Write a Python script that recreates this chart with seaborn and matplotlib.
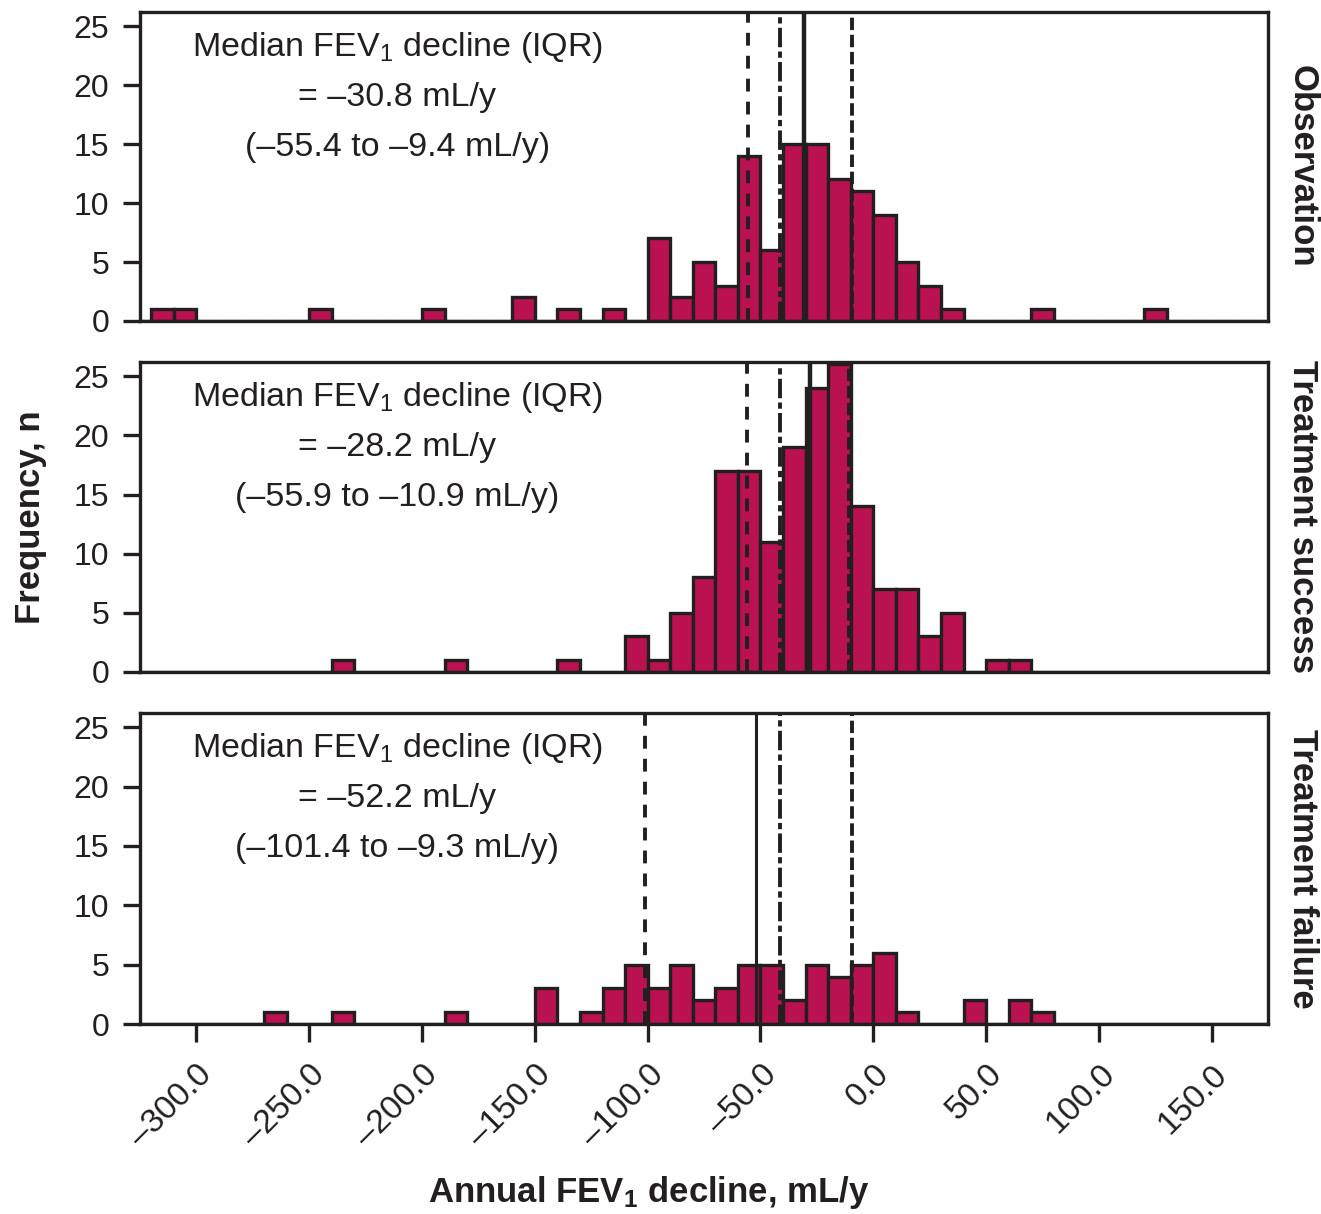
import numpy as np
import pandas as pd
import matplotlib
matplotlib.use("Agg")
import matplotlib.pyplot as plt
import seaborn as sns

# histogram counts per 10 mL/y bin, keyed by the bin's left edge
obs_left = [-320, -310, -250, -200, -160, -140, -120, -100, -90, -80, -70, -60,
            -50, -40, -30, -20, -10, 0, 10, 20, 30, 70, 120]
obs_n = [1, 1, 1, 1, 2, 1, 1, 7, 2, 5, 3, 14, 6, 15, 15, 12, 11, 9, 5, 3, 1, 1, 1]

succ_left = [-240, -190, -140, -110, -100, -90, -80, -70, -60, -50, -40, -30,
             -20, -10, 0, 10, 20, 30, 50, 60]
succ_n = [1, 1, 1, 3, 1, 5, 8, 17, 17, 11, 19, 24, 26, 14, 7, 7, 3, 5, 1, 1]

fail_left = [-270, -240, -190, -150, -130, -120, -110, -100, -90, -80, -70, -60,
             -50, -40, -30, -20, -10, 0, 10, 40, 60, 70]
fail_n = [1, 1, 1, 3, 1, 3, 5, 3, 5, 2, 3, 5, 5, 2, 5, 4, 5, 6, 1, 2, 2, 1]

groups = ["Observation", "Treatment success", "Treatment failure"]
medians = [-30.8, -28.2, -52.2]
q1s = [-55.4, -55.9, -101.4]
q3s = [-9.4, -10.9, -9.3]
ref_line = -41.2  # unlabeled dash-dot line, same in every panel

xticks = [-300, -250, -200, -150, -100, -50, 0, 50, 100, 150]
yticks = [0, 5, 10, 15, 20, 25]

frames = []
for g, left, n in zip(groups, [obs_left, succ_left, fail_left], [obs_n, succ_n, fail_n]):
    frames.append(pd.DataFrame({"group": g, "value": np.array(left, dtype=float) + 5,
                                "n": np.array(n, dtype=float)}))
df = pd.concat(frames, ignore_index=True)

sns.set_style("ticks")
plt.rcParams["font.family"] = ["Liberation Sans", "DejaVu Sans"]
plt.rcParams["mathtext.default"] = "regular"

bar_color = "#BA1150"
ink = "#231F20"

fig = plt.figure(figsize=(13.21, 12.14), dpi=100)
boxes = [(0.106, 0.7356, 0.854, 0.2545),
         (0.106, 0.4465, 0.854, 0.2553),
         (0.106, 0.1565, 0.854, 0.2562)]

for i, g in enumerate(groups):
    ax = fig.add_axes(boxes[i])
    sub = df[df["group"] == g]
    sns.histplot(data=sub, x="value", weights="n", binwidth=10, binrange=(-330, 180),
                 ax=ax, color=bar_color, edgecolor=ink, linewidth=2.4, alpha=1)

    lw_med = 3.2 if i < 2 else 2.2
    ax.axvline(q1s[i], color=ink, lw=2.8, linestyle=(0, (3.3, 2.6)))
    ax.axvline(ref_line, color=ink, lw=2.8, linestyle=(0, (5, 1.1, 1.6, 1.1)))
    ax.axvline(medians[i], color=ink, lw=lw_med, linestyle="-")
    ax.axvline(q3s[i], color=ink, lw=2.8, linestyle=(0, (3.2, 1.2)))

    ax.set_xlim(-325, 175)
    ax.set_ylim(0, 26.2)
    ax.set_yticks(yticks)
    ax.set_yticklabels([str(t) for t in yticks], fontsize=23, color=ink)
    ax.set_xlabel("")
    ax.set_ylabel("")
    for s in ax.spines.values():
        s.set_linewidth(2.4)
        s.set_color(ink)
    ax.tick_params(axis="y", length=12, width=2.4, color=ink, pad=10)

    if i < 2:
        ax.set_xticks([])
    else:
        ax.set_xticks(xticks)
        ax.set_xticklabels([f"{t:.1f}".replace("-", "–") for t in xticks],
                           rotation=45, ha="right", va="top",
                           rotation_mode="anchor", fontsize=24, color=ink)
        ax.tick_params(axis="x", length=13, width=2.4, color=ink, pad=12)

    lines = ["Median FEV$_1$ decline (IQR)",
             f"= {str(medians[i]).replace('-', '–')} mL/y",
             f"({str(q1s[i]).replace('-', '–')} to {str(q3s[i]).replace('-', '–')} mL/y)"]
    ys = [0.885, 0.724, 0.563]
    for txt, y in zip(lines, ys):
        ax.text(0.228, y, txt, transform=ax.transAxes, ha="center", va="center",
                fontsize=24.5, color=ink)

    ax.text(1.030, 0.5, g, transform=ax.transAxes, rotation=-90,
            ha="center", va="center", fontsize=25, fontweight="bold", color=ink)

fig.text(0.023, 0.574, "Frequency, n", rotation=90, ha="center", va="center",
         fontsize=25, fontweight="bold", color=ink)
fig.text(0.491, 0.0173, "Annual FEV$_1$ decline, mL/y", ha="center", va="center",
         fontsize=25, fontweight="bold", color=ink)

fig.savefig("out.png", dpi=100)
